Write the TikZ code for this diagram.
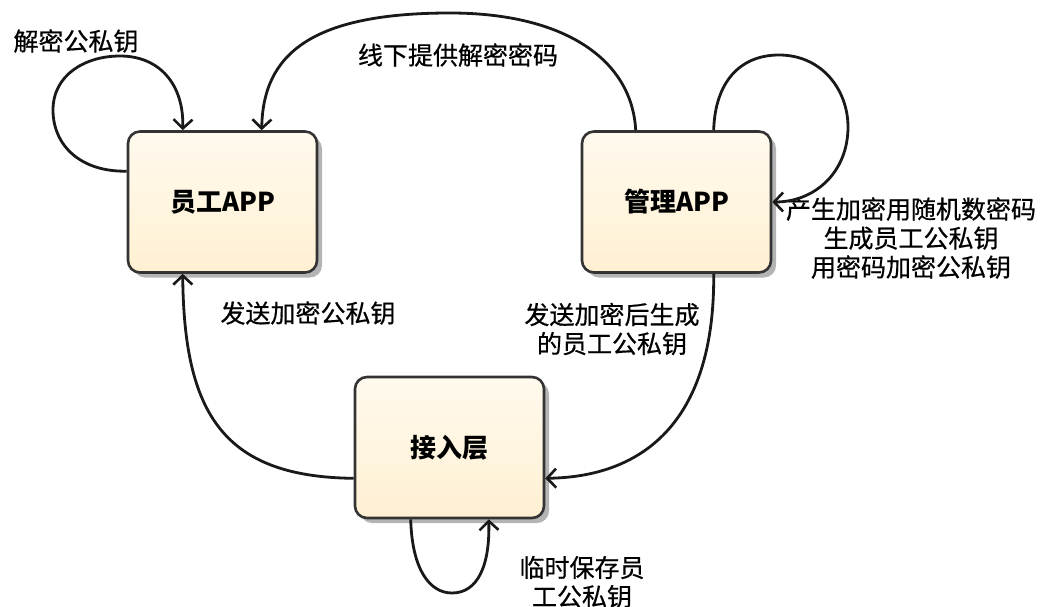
\documentclass[tikz,border=0pt]{standalone}
\usepackage{fontspec}
\setmainfont{Noto Sans CJK SC}
\newfontfamily\lblfont[FakeBold=0.6]{Noto Sans CJK SC}
\usetikzlibrary{arrows.meta,shadows,calc}
\definecolor{boxtop}{HTML}{FFFAEE}
\definecolor{boxbot}{HTML}{FFF0D2}
\definecolor{shadowc}{HTML}{B4B4B4}
\begin{document}
\begin{tikzpicture}[x=1pt,y=-1pt,
  statebox/.style={draw=black!80, line width=2.6pt, rounded corners=12pt,
    minimum width=189pt, minimum height=141pt, inner sep=0pt,
    top color=boxtop, bottom color=boxbot,
    drop shadow={shadow xshift=5pt, shadow yshift=-5pt, fill=shadowc, opacity=1},
    font=\fontsize{26}{30}\selectfont\bfseries},
  conn/.style={line width=2.8pt, draw=black!90, -{Straight Barb[length=9pt,width=19pt,line width=2.6pt]}},
  lbl/.style={font=\lblfont\fontsize{25}{29}\selectfont, align=center, inner sep=0pt}]
\useasboundingbox (0,0) rectangle (1044,607);

\node[statebox] (A) at (222.5,202) {员工APP};
\node[statebox] (B) at (676.5,202) {管理APP};
\node[statebox] (C) at (449.5,447.5) {接入层};

\node[lbl] (l1) at (76,41) {解密公私钥};
\node[lbl] (l2) at (458,55) {线下提供解密密码};
\node[lbl] (l3) at (911,238) {产生加密用随机数密码\\生成员工公私钥\\用密码加密公私钥};
\node[lbl] (l4) at (612,329) {发送加密后生成\\的员工公私钥};
\node[lbl] (l5) at (308,313) {发送加密公私钥};
\node[lbl] (l6) at (582,582) {临时保存员\\工公私钥};

% A self loop
\draw[conn] ($(A.north west)+(0,41)$) .. controls (80,172) and (53,145) .. (53,110)
  .. controls (53,75) and (85,56) .. (120,56)
  .. controls (160,56) and (184,85) .. ($(A.north west)+(56,0)$);
% B -> A over the top
\draw[conn] ($(B.north west)+(55,0)$) .. controls (632,60) and (565,13) .. (450,13)
  .. controls (310,13) and (263,55) .. ($(A.north west)+(135,0)$);
% B self loop
\draw[conn] ($(B.north west)+(133,0)$) .. controls (715,82) and (740,55) .. (779,55)
  .. controls (822,55) and (848,90) .. (848,127)
  .. controls (848,172) and (815,202) .. (B.east);
% B -> C
\draw[conn] ($(B.south west)+(133,0)$) .. controls (715,425) and (640,477) .. ($(C.south east)+(0,-41)$);
% C -> A
\draw[conn] ($(C.south west)+(0,-41)$) .. controls (222,477) and (184,412) .. ($(A.south west)+(56,0)$);
% C self loop
\draw[conn] ($(C.south west)+(57,0)$) .. controls (412,570) and (430,593) .. (452,593)
  .. controls (478,593) and (490,565) .. ($(C.south west)+(135,0)$);
\end{tikzpicture}
\end{document}
